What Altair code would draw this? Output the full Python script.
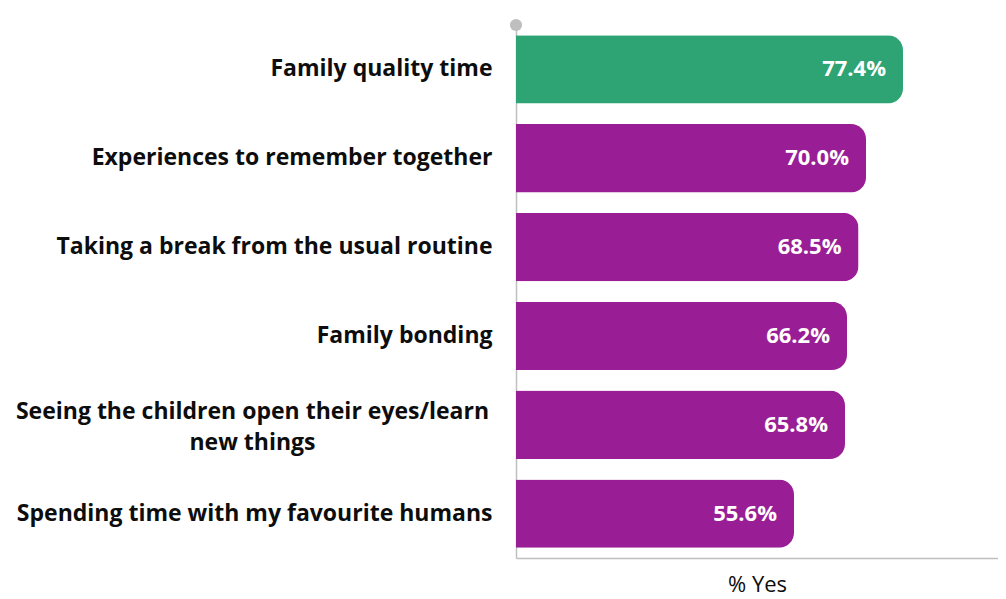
import altair as alt
import pandas as pd

categories = [
    "Family quality time",
    "Experiences to remember together",
    "Taking a break from the usual routine",
    "Family bonding",
    "Seeing the children open their eyes/learn|new things",
    "Spending time with my favourite humans",
]
values = [77.4, 70.0, 68.5, 66.2, 65.8, 55.6]
highlight = ["top", "other", "other", "other", "other", "other"]

df = pd.DataFrame({"cat": categories, "val": values, "grp": highlight})

FONT = "Open Sans"
GREY = "#bfbfbf"
IS_LONG = "indexof(datum.value, 'Seeing') == 0"

y_enc = alt.Y(
    "cat:N",
    sort=categories,
    title=None,
    scale=alt.Scale(paddingInner=0.23, paddingOuter=0.115),
    axis=alt.Axis(
        ticks=False,
        domainColor=GREY,
        domainWidth=1.5,
        labelFont=FONT,
        labelFontWeight="bold",
        labelFontSize=23,
        labelColor="#0d0d0d",
        labelLimit=600,
        labelLineHeight=31,
        labelExpr="split(datum.label, '|')",
        labelPadding={"condition": {"test": IS_LONG, "value": 264}, "value": 24},
        labelAlign={"condition": {"test": IS_LONG, "value": "center"}, "value": "right"},
        labelOffset={"condition": {"test": IS_LONG, "value": -13}, "value": 0},
    ),
)

x_enc = alt.X(
    "val:Q",
    scale=alt.Scale(domain=[0, 96.4], nice=False),
    axis=alt.Axis(
        title="% Yes",
        labels=False,
        ticks=False,
        grid=False,
        domainColor=GREY,
        domainWidth=1.5,
        titleFont=FONT,
        titleFontSize=22,
        titleFontWeight="normal",
        titleColor="#0d0d0d",
        titlePadding=16,
    ),
)

bars = alt.Chart(df).mark_bar(cornerRadiusEnd=15).encode(
    y=y_enc,
    x=x_enc,
    color=alt.Color(
        "grp:N",
        scale=alt.Scale(domain=["top", "other"], range=["#2ea373", "#991e95"]),
        legend=None,
    ),
)

text = alt.Chart(df).transform_calculate(
    lab="format(datum.val, '.1f') + '%'"
).mark_text(
    align="right", baseline="middle", dx=-17, color="white",
    font=FONT, fontWeight="bold", fontSize=22,
).encode(y=alt.Y("cat:N", sort=categories), x="val:Q", text="lab:N")

dot = alt.Chart(df).mark_circle(size=150, color=GREY, opacity=1, clip=False).encode(
    x=alt.datum(0), y=alt.value(0)
).transform_filter("datum.grp == 'top'")

chart = alt.layer(bars, text, dot).properties(
    width=482,
    height=533,
    autosize=alt.AutoSizeParams(type="none"),
    padding={"left": 508, "top": 17, "right": 0, "bottom": 41},
).configure_view(stroke=None)

chart.save("out.html", embed_options={"renderer": "svg", "actions": False})
